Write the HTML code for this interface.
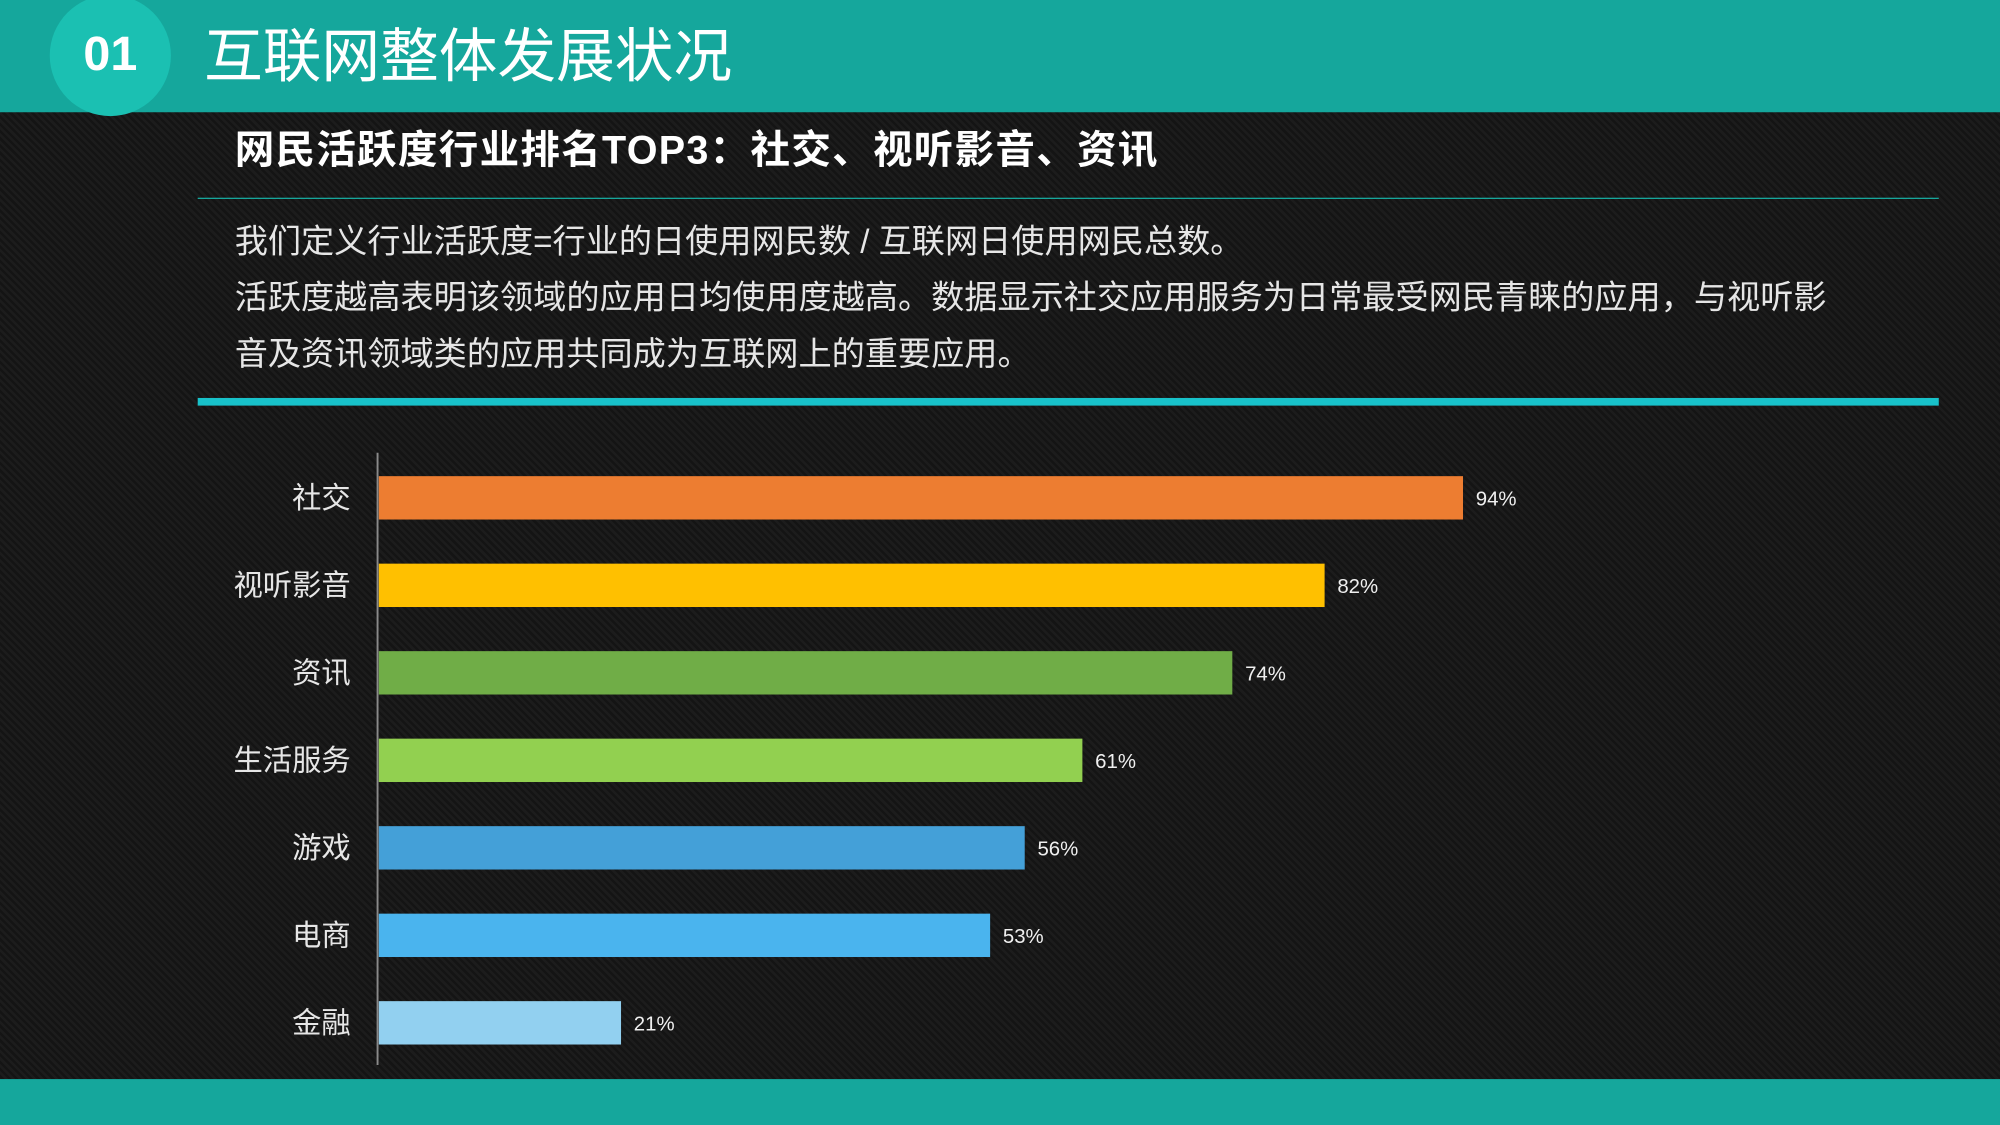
<!DOCTYPE html>
<html><head><meta charset="utf-8">
<style>
html,body{margin:0;padding:0;width:2000px;height:1125px;overflow:hidden;background:#161616;}
#stage{position:absolute;left:0;top:0;width:1568px;height:882px;transform:scale(1.27551);transform-origin:0 0;
font-family:"Liberation Sans","Noto Sans CJK SC",sans-serif;
background:repeating-linear-gradient(45deg,#1c1c1c 0 2px,#141414 2px 4px);}
.abs{position:absolute;}
</style></head><body>
<div id="stage">
  <div class="abs" style="left:0;top:0;width:1568px;height:88px;background:#15a79c;"></div>
  <div class="abs" style="left:39px;top:-4px;width:95px;height:95px;border-radius:50%;background:#1bc0b2;color:#fff;font-weight:bold;font-size:38px;line-height:95px;text-align:center;">01</div>
  <div class="abs" style="left:160px;top:14px;font-size:46px;color:#fff;line-height:60px;">互联网整体发展状况</div>
  <div class="abs" style="left:184px;top:98px;font-size:31px;letter-spacing:1px;font-weight:bold;color:#fff;line-height:40px;">网民活跃度行业排名TOP3：社交、视听影音、资讯</div>
  <div class="abs" style="left:155px;top:155px;width:1365px;height:1px;background:#17a99e;"></div>
  <div class="abs" style="left:184px;top:167px;width:1340px;font-size:26px;color:#e6e6e6;line-height:44px;white-space:nowrap;">我们定义行业活跃度=行业的日使用网民数 / 互联网日使用网民总数。<br>活跃度越高表明该领域的应用日均使用度越高。数据显示社交应用服务为日常最受网民青睐的应用，与视听影<br>音及资讯领域类的应用共同成为互联网上的重要应用。</div>
  <div class="abs" style="left:155px;top:312px;width:1365px;height:6px;background:#18c2ca;"></div>
  <svg class="abs" id="chart" style="left:0;top:0;" width="1568" height="882"></svg>
  <div class="abs" style="left:0;top:846px;width:1568px;height:36px;background:#15a79c;"></div>
</div>
<script>
const categories=["社交","视听影音","资讯","生活服务","游戏","电商","金融"];
const values=[94,82,74,61,56,53,21];
const valueLabels=["94%","82%","74%","61%","56%","53%","21%"];
const colors=["#ed7d31","#ffc000","#70ad47","#92d050","#44a0d8","#4ab4ee","#92d0f0"];
const NS="http://www.w3.org/2000/svg";
const svg=document.getElementById("chart");
const x0=297,pxPer=850/94,yTop=356,band=68.6,barH=34;
const xs=v=>x0+v*pxPer;
const yc=i=>yTop+band*(i+0.5);
const ax=document.createElementNS(NS,"line");


ax.setAttribute("x1",296);ax.setAttribute("x2",296);ax.setAttribute("y1",355);ax.setAttribute("y2",835);
ax.setAttribute("stroke","#8a8a8a");ax.setAttribute("stroke-width","1.5");svg.appendChild(ax);
categories.forEach((c,i)=>{
  const r=document.createElementNS(NS,"rect");
  
  
  r.setAttribute("x",x0);r.setAttribute("y",yc(i)-barH/2);
  r.setAttribute("width",xs(values[i])-x0);r.setAttribute("height",barH);
  r.setAttribute("fill",colors[i]);svg.appendChild(r);
  const t=document.createElementNS(NS,"text");
  
  
  t.setAttribute("x",275);t.setAttribute("y",yc(i)+8);t.setAttribute("text-anchor","end");
  t.setAttribute("fill","#e6e6e6");t.setAttribute("font-size","23");
  t.setAttribute("font-family",'"Liberation Sans","Noto Sans CJK SC",sans-serif');
  t.textContent=c;svg.appendChild(t);
  const v=document.createElementNS(NS,"text");
  
  
  v.setAttribute("x",xs(values[i])+10);v.setAttribute("y",yc(i)+6);
  v.setAttribute("fill","#f0f0f0");v.setAttribute("font-size","16");
  v.setAttribute("font-family",'"Liberation Sans",sans-serif');
  v.textContent=valueLabels[i];svg.appendChild(v);
});
</script>
</body></html>
